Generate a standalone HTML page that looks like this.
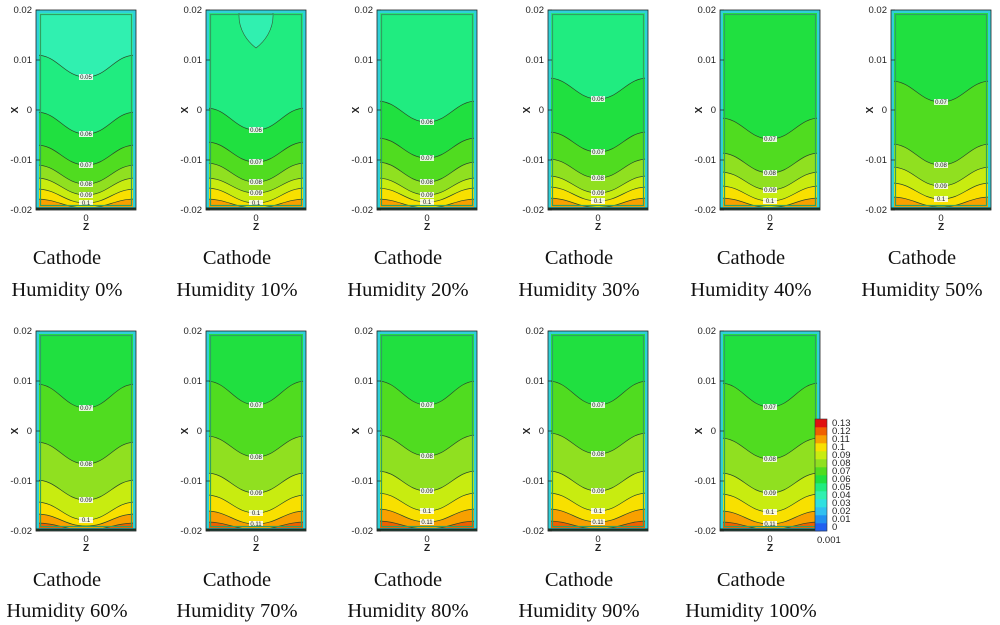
<!DOCTYPE html>
<html><head><meta charset="utf-8">
<style>
html,body{margin:0;padding:0;background:#fff;}
svg{display:block;}
.tk{font-family:"Liberation Sans",sans-serif;font-size:9.5px;fill:#222;}
.ax{font-family:"Liberation Sans",sans-serif;font-size:10px;font-weight:bold;fill:#222;}
.cap{font-family:"Liberation Serif",serif;font-size:20.5px;fill:#111;}
.cl{font-family:"Liberation Sans",sans-serif;font-size:6px;fill:#222;}
</style></head>
<body>
<svg id="fig" width="1000" height="625" viewBox="0 0 1000 625" xmlns="http://www.w3.org/2000/svg"></svg>
<script>
// ---- data ----
const humidity = [0,10,20,30,40,50,60,70,80,90,100];
const topBand = [0.04,0.05,0.05,0.05,0.06,0.06,0.06,0.06,0.06,0.06,0.06];
const levels = [
 [0.05,0.06,0.07,0.08,0.09,0.1,0.11],
 [0.06,0.07,0.08,0.09,0.1,0.11],
 [0.06,0.07,0.08,0.09,0.1,0.11],
 [0.06,0.07,0.08,0.09,0.1,0.11],
 [0.07,0.08,0.09,0.1,0.11],
 [0.07,0.08,0.09,0.1,0.11],
 [0.07,0.08,0.09,0.1,0.11,0.12],
 [0.07,0.08,0.09,0.1,0.11,0.12],
 [0.07,0.08,0.09,0.1,0.11,0.12],
 [0.07,0.08,0.09,0.1,0.11,0.12],
 [0.07,0.08,0.09,0.1,0.11,0.12]
];
const centerX = [
 [0.0066,-0.0048,-0.0110,-0.0148,-0.0170,-0.0186,-0.0196],
 [-0.0040,-0.0104,-0.0144,-0.0166,-0.0186,-0.0196],
 [-0.0024,-0.0096,-0.0144,-0.0170,-0.0184,-0.0196],
 [0.0022,-0.0084,-0.0136,-0.0166,-0.0182,-0.0195],
 [-0.0058,-0.0126,-0.0160,-0.0182,-0.0195],
 [0.0016,-0.0110,-0.0152,-0.0178,-0.0194],
 [0.0046,-0.0066,-0.0138,-0.0178,-0.0190,-0.0198],
 [0.0052,-0.0052,-0.0124,-0.0164,-0.0186,-0.0197],
 [0.0052,-0.0050,-0.0120,-0.0160,-0.0182,-0.0196],
 [0.0052,-0.0046,-0.0120,-0.0160,-0.0182,-0.0196],
 [0.0048,-0.0056,-0.0124,-0.0162,-0.0186,-0.0197]
];
const edgeX = [
 [0.0110,-0.0004,-0.0070,-0.0110,-0.0136,-0.0158,-0.0178],
 [0.0004,-0.0064,-0.0106,-0.0136,-0.0156,-0.0178],
 [0.0018,-0.0056,-0.0104,-0.0136,-0.0156,-0.0178],
 [0.0064,-0.0044,-0.0098,-0.0132,-0.0154,-0.0176],
 [-0.0016,-0.0086,-0.0124,-0.0152,-0.0176],
 [0.0058,-0.0068,-0.0114,-0.0146,-0.0174],
 [0.0094,-0.0022,-0.0098,-0.0142,-0.0166,-0.0184],
 [0.0100,-0.0010,-0.0084,-0.0128,-0.0160,-0.0182],
 [0.0100,-0.0008,-0.0080,-0.0124,-0.0156,-0.0180],
 [0.0100,-0.0004,-0.0080,-0.0124,-0.0156,-0.0180],
 [0.0096,-0.0014,-0.0084,-0.0126,-0.0160,-0.0182]
];
const xTicks = [0.02,0.01,0,-0.01,-0.02];
const xTickLabels = ["0.02","0.01","0","-0.01","-0.02"];
const cbLevels = [0,0.01,0.02,0.03,0.04,0.05,0.06,0.07,0.08,0.09,0.1,0.11,0.12,0.13];
const cbColors = ["#1030e0","#2060f0","#2090f0","#30c0f0","#30e0e0","#30f0b0","#20ec80","#20e040","#50dc20","#90e020","#c8ec10","#f8e000","#f8a000","#f06000","#e01010"];
// ---- layout ----
const NS="http://www.w3.org/2000/svg";
const svg=document.getElementById('fig');
function el(tag,attrs,parent){const e=document.createElementNS(NS,tag);for(const k in attrs)e.setAttribute(k,attrs[k]);(parent||svg).appendChild(e);return e;}
function colorFor(v){const i=Math.round(v*100);return cbColors[Math.min(i+1,cbColors.length-1)];}
const centers=[86,256,427,598,770,941];
const PW=100, PH=200;
humidity.forEach((h,p)=>{
  const row=p<6?0:1, col=p%6;
  const cx=centers[col], top=row?331:10, L=cx-PW/2, R=cx+PW/2, B=top+PH;
  const yS=v=>top+(0.02-v)/0.04*PH;
  const g=el('g',{});
  
  
  const base=el('rect',{x:L,y:top,width:PW,height:PH,fill:colorFor(topBand[p])},g);
  
  
  if(h===10){const b=el('path',{d:`M${cx-17},${top+3} C${cx-18},${top+20} ${cx-8},${top+32} ${cx},${top+38} C${cx+8},${top+32} ${cx+18},${top+20} ${cx+17},${top+3} Z`,fill:colorFor(0.04),stroke:'#335533','stroke-width':0.6},g);
    
    }
  levels[p].forEach((lv,i)=>{
    const yc=yS(centerX[p][i]), ye=yS(edgeX[p][i]);
    const curve=`M${L},${ye} C${L+PW*0.22},${ye} ${cx-PW*0.22},${yc} ${cx},${yc} C${cx+PW*0.22},${yc} ${R-PW*0.22},${ye} ${R},${ye}`;
    const f=el('path',{d:curve+` L${R},${B} L${L},${B} Z`,fill:colorFor(lv)},g);
    
    
    const s=el('path',{d:curve,fill:'none',stroke:'#2a4a2a','stroke-width':0.7},g);
    
    
    if(yc<B-6){
      el('rect',{x:cx-7,y:yc-3,width:14,height:6,fill:'#fff',opacity:0.85},g);
      const t=el('text',{x:cx,y:yc+2,'text-anchor':'middle',class:'cl'},g);t.textContent=String(lv);
      
      
    }
  });
  el('rect',{x:L+1.5,y:top+1.5,width:PW-3,height:PH-3,fill:'none',stroke:'#30d0d8','stroke-width':3},g);
  el('rect',{x:L+4.5,y:top+4.5,width:PW-9,height:PH-9,fill:'none',stroke:'#30a060','stroke-width':1.2},g);
  el('rect',{x:L,y:top,width:PW,height:PH,fill:'none',stroke:'#222','stroke-width':0.8},g);
  el('line',{x1:L,y1:B-1.5,x2:R,y2:B-1.5,stroke:'#203020','stroke-width':2},g);
  xTicks.forEach((v,i)=>{
    const y=yS(v);
    el('line',{x1:L,y1:y,x2:L+4,y2:y,stroke:'#222','stroke-width':0.7},g);
    const t=el('text',{x:L-4,y:y+3,'text-anchor':'end',class:'tk'},g);t.textContent=xTickLabels[i];
    
    
  });
  const z0=el('text',{x:cx,y:B+11,'text-anchor':'middle',class:'tk'},g);z0.textContent='0';
  const zt=el('text',{x:cx,y:B+20,'text-anchor':'middle',class:'ax'},g);zt.textContent='Z';
  
  
  const xt=el('text',{x:L-22,y:top+PH/2+4,'text-anchor':'middle',class:'ax',transform:`rotate(-90 ${L-22} ${top+PH/2})`},g);xt.textContent='X';
  
  
  const c1=el('text',{x:cx-19,y:row?586:264,'text-anchor':'middle',class:'cap'},g);c1.textContent='Cathode';
  
  
  const c2=el('text',{x:cx-19,y:row?617:296,'text-anchor':'middle',class:'cap'},g);c2.textContent='Humidity '+h+'%';
  
  
});
const cb=el('g',{});


const cbTop=419, cbBot=531, cbL=815, cbW=12, n=cbLevels.length;
const sh=(cbBot-cbTop)/n;
cbLevels.forEach((v,i)=>{
  const y=cbBot-(i+1)*sh;
  el('rect',{x:cbL,y:y,width:cbW,height:sh+0.3,fill:cbColors[i+1]},cb);
  const t=el('text',{x:cbL+17,y:y+sh/2+3,class:'tk','font-size':'8'},cb);t.textContent=String(v);
  
  
});
el('rect',{x:cbL,y:cbTop,width:cbW,height:cbBot-cbTop,fill:'none',stroke:'#333','stroke-width':0.6},cb);
const ct=el('text',{x:cbL+2,y:543,class:'tk','font-size':'8'},cb);ct.textContent='0.001';
</script>
</body></html>
